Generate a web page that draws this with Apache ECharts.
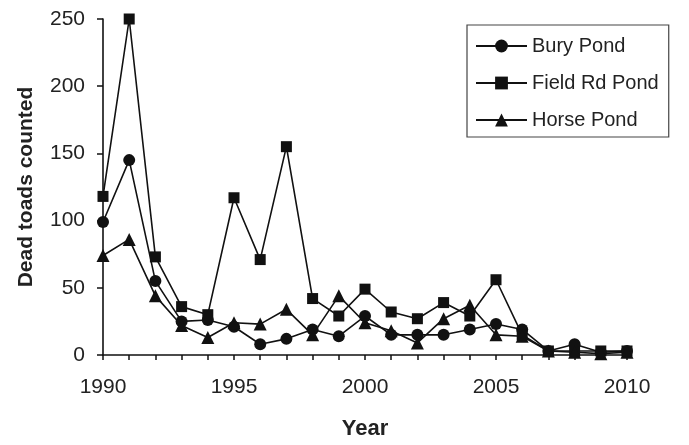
<!DOCTYPE html>
<html>
<head>
<meta charset="utf-8">
<script src="https://cdn.jsdelivr.net/npm/echarts@6/dist/echarts.min.js"></script>
<style>
  html, body { margin: 0; padding: 0; background: #fff; }
  #chart { width: 689px; height: 445px; }
</style>
</head>
<body>
<div id="chart"></div>
<script>
var years = [1990, 1991, 1992, 1993, 1994, 1995, 1996, 1997, 1998, 1999, 2000,
             2001, 2002, 2003, 2004, 2005, 2006, 2007, 2008, 2009, 2010];
var buryPond  = [99, 145, 55, 25, 26, 21, 8, 12, 19, 14, 29, 15, 15, 15, 19, 23, 19, 3, 8, 2, 3];
var fieldRd   = [118, 250, 73, 36, 30, 117, 71, 155, 42, 29, 49, 32, 27, 39, 29, 56, 15, 3, 3, 3, 3];
var horsePond = [74, 86, 44, 22, 13, 24, 23, 34, 15, 44, 24, 18, 9, 27, 37, 15, 14, 3, 2, 1, 2];
var yTicks = [0, 50, 100, 150, 200, 250];

var font = '"Liberation Sans", Arial, sans-serif';
var ink = '#111';

function pairs(vals) {
    return vals.map(function (v, i) { return [years[i], v]; });
}

function makeSeries(name, vals, symbol, size) {
    return {
        name: name,
        type: 'line',
        data: pairs(vals),
        symbol: symbol,
        symbolSize: size,
        showAllSymbol: true,
        itemStyle: { color: ink },
        lineStyle: { color: ink, width: 1.6 },
        emphasis: { disabled: true },
        animation: false
    };
}

var myChart = echarts.init(document.getElementById('chart'));

var option = {
    backgroundColor: '#fff',
    animation: false,
    grid: { left: 103, right: 62, top: 19, bottom: 86, containLabel: false },
    legend: {
        orient: 'vertical',
        left: 467,
        top: 25,
        padding: [11, 10, 7, 8],
        itemGap: 17,
        itemWidth: 51,
        itemHeight: 16,
        itemTextGap: 5,
        borderColor: '#444',
        borderWidth: 1.2,
        textStyle: { fontFamily: font, fontSize: 20, color: '#222' },
        data: ['Bury Pond', 'Field Rd Pond', 'Horse Pond']
    },
    xAxis: {
        type: 'value',
        min: years[0],
        max: years[years.length - 1],
        interval: 1,
        name: 'Year',
        nameLocation: 'middle',
        nameGap: 63,
        nameTextStyle: { fontFamily: font, fontSize: 22, fontWeight: 'bold', color: '#222' },
        axisLine: { onZero: false, lineStyle: { color: ink, width: 1.6 } },
        axisTick: { show: true, length: 5, lineStyle: { color: ink, width: 1.5 } },
        axisLabel: {
            margin: 22,
            fontFamily: font, fontSize: 21, color: '#222',
            formatter: function (v) { return v % 5 === 0 ? String(v) : ''; }
        },
        splitLine: { show: false }
    },
    yAxis: {
        type: 'value',
        min: yTicks[0],
        max: yTicks[yTicks.length - 1],
        interval: 50,
        name: 'Dead toads counted',
        nameLocation: 'middle',
        nameGap: 66,
        nameTextStyle: { fontFamily: font, fontSize: 21, fontWeight: 'bold', color: '#222' },
        axisLine: { show: true, lineStyle: { color: ink, width: 1.6 } },
        axisTick: { show: true, length: 6, lineStyle: { color: ink, width: 1.5 } },
        axisLabel: { margin: 18, fontFamily: font, fontSize: 21, color: '#222' },
        splitLine: { show: false }
    },
    series: [
        makeSeries('Bury Pond', buryPond, 'circle', 12),
        makeSeries('Field Rd Pond', fieldRd, 'rect', 11),
        makeSeries('Horse Pond', horsePond, 'triangle', 13)
    ]
};

myChart.setOption(option);
</script>
</body>
</html>
